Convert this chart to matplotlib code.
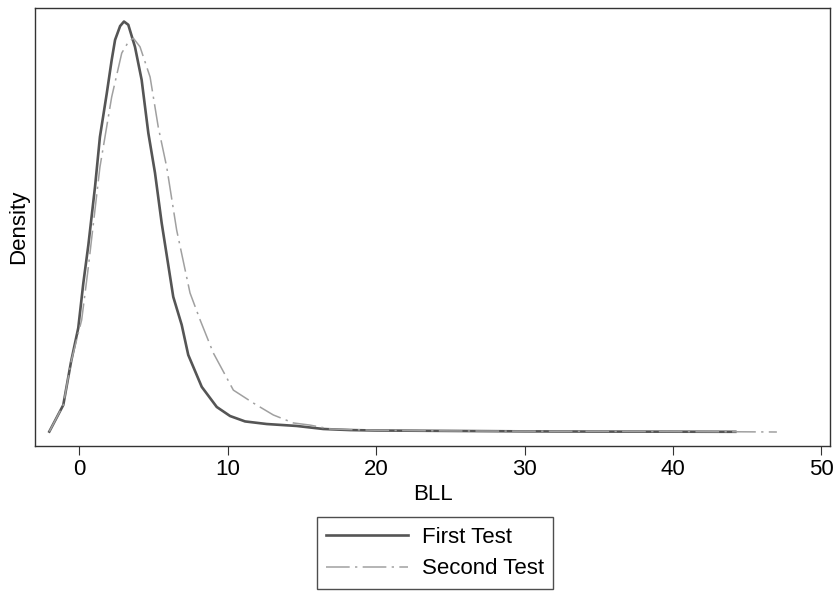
import matplotlib
matplotlib.use('Agg')
import matplotlib.pyplot as plt

plt.rcParams['font.family'] = ['Liberation Sans', 'DejaVu Sans']

# kernel density estimates
bll_first = [-2.02, -1.08, -0.56, -0.07, 0.27, 0.61, 1.06, 1.39, 1.85, 2.18, 2.41, 2.75, 3.01, 3.30,
             3.75, 4.20, 4.65, 5.10, 5.55, 6.33, 6.90, 7.34, 8.25, 9.26, 10.16, 11.17, 12.63,
             14.65, 16.44, 18.24, 20.0, 25.0, 30.0, 35.0, 40.0, 44.2]
dens_first = [0.0002, 0.0125, 0.0324, 0.0482, 0.0689, 0.0866, 0.1136, 0.1367, 0.1568, 0.1722, 0.1816,
              0.1880, 0.1901, 0.1886, 0.1784, 0.1631, 0.1385, 0.1200, 0.0968, 0.0626, 0.0496,
              0.0357, 0.0209, 0.0116, 0.0074, 0.0049, 0.0037, 0.0028, 0.0014, 0.0009, 0.0007,
              0.0005, 0.0003, 0.0002, 0.00015, 0.0001]

bll_second = [-2.02, -1.08, -0.56, 0.16, 0.61, 1.39, 2.18, 2.86, 3.30, 3.64, 4.09, 4.77, 5.32, 5.89,
              6.56, 7.46, 8.14, 9.03, 10.38, 11.73, 13.07, 14.42, 15.55, 16.89, 20.0, 25.0, 30.0,
              35.0, 40.0, 44.5, 47.0]
dens_second = [0.0002, 0.0125, 0.0324, 0.0519, 0.0764, 0.1227, 0.1551, 0.1755, 0.1806, 0.1824,
               0.1784, 0.1644, 0.1412, 0.1227, 0.0935, 0.0644, 0.0519, 0.0366, 0.0194, 0.0134,
               0.0079, 0.0042, 0.0032, 0.0014, 0.0008, 0.0005, 0.0004, 0.0003, 0.0002, 0.0001,
               0.0]

xticks = [0, 10, 20, 30, 40, 50]
labels = ['First Test', 'Second Test']

fs = 16
fig = plt.figure(figsize=(8.36, 5.92), dpi=100)
ax = fig.add_axes([35 / 836, 1 - 445.7 / 592, 795 / 836, 438.2 / 592])

ax.plot(bll_first, dens_first, color='#555555', lw=1.9, solid_joinstyle='round', label=labels[0])
ax.plot(bll_second, dens_second, color='#a0a0a0', lw=1.1, dashes=(15.5, 3.5, 1.5, 3.5),
        label=labels[1])

ax.set_xlim(-2.985, 50.58)
ax.set_ylim(-0.00634, 0.1966)
ax.set_xticks(xticks)
ax.set_xticklabels([str(t) for t in xticks], fontsize=fs)
ax.set_yticks([])
ax.tick_params(axis='x', length=6.5, width=0.8, color='#333333', pad=3)
for s in ax.spines.values():
    s.set_color('#333333')
    s.set_linewidth(1.0)

ax.set_xlabel('BLL', fontsize=fs, labelpad=3)
ax.set_ylabel('Density', fontsize=fs, labelpad=4)

h, l = ax.get_legend_handles_labels()
leg = fig.legend(h, l, loc='upper center', bbox_to_anchor=(435 / 836, 1 - 517 / 592),
                 fontsize=fs, frameon=True, fancybox=False, handlelength=3.7,
                 handletextpad=0.6, labelspacing=0.49, borderpad=0.43, borderaxespad=0)
leg.get_frame().set_edgecolor('#222222')
leg.get_frame().set_linewidth(1.0)

fig.savefig('out.png', dpi=100)
